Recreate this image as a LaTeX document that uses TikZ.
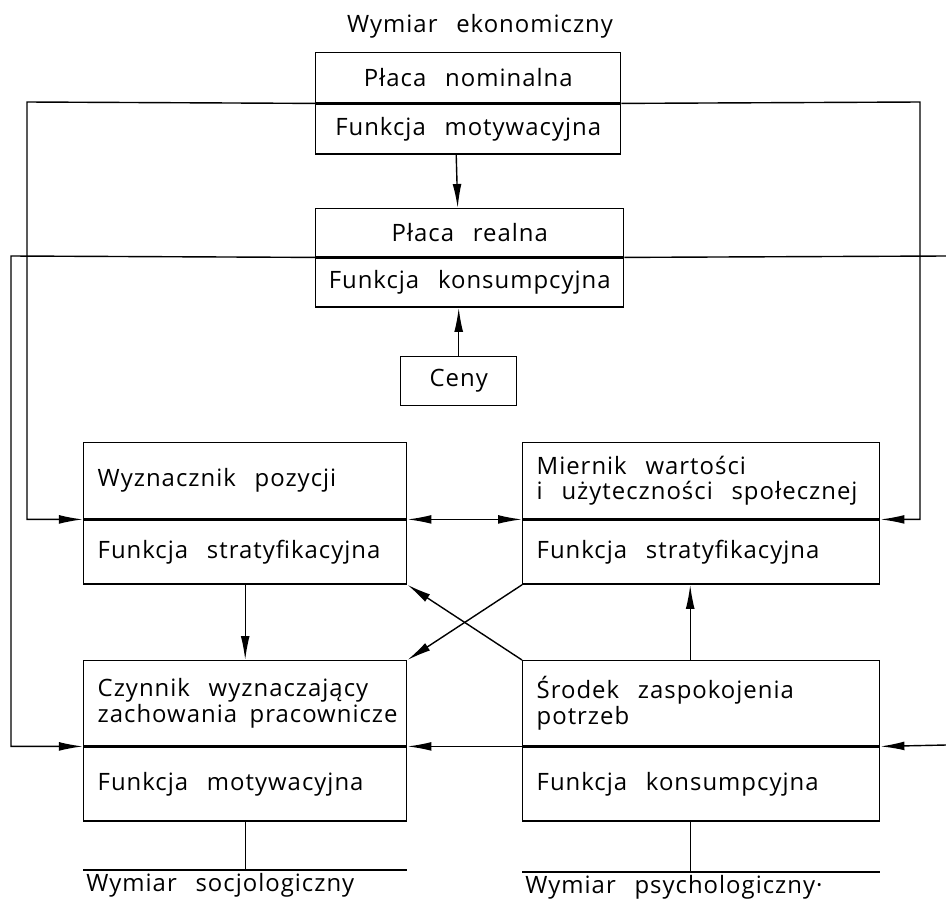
\documentclass[tikz,border=0pt]{standalone}
\usepackage{fontspec}
\setmainfont[LetterSpace=4.2,WordSpace=2.6]{Open Sans}
\usepackage{tikz}
\usetikzlibrary{arrows.meta, positioning}
\newdimen\pxu \pxu=0.025cm
\tikzset{
  cellbox/.style={draw=black,line width=1pt,inner sep=0pt,anchor=north west,font=\fontsize{17}{18}\selectfont},
  lcell/.style={cellbox,align=flush left,inner xsep=14\pxu,execute at begin node={\hyphenpenalty=10000 \exhyphenpenalty=10000 }},
  dimlabel/.style={anchor=north west,inner xsep=3\pxu,inner ysep=3\pxu,align=flush left,font=\fontsize{17}{18}\selectfont},
  flowedge/.style={-{Latex[length=6mm,width=2.2mm]},line width=1pt,black},
  biedge/.style={flowedge,{Latex[length=6mm,width=2.2mm]}-{Latex[length=6mm,width=2.2mm]}},
  plainedge/.style={line width=1pt,black},
  dimrule/.style={line width=1.8pt,black},
}
\begin{document}
\begin{tikzpicture}[x=0.025cm,y=-0.025cm]
  \useasboundingbox (0,0) rectangle (946,901);
  % economic level
  \node[font=\fontsize{17}{18}\selectfont] (nEkon) at (480,26) {Wymiar ekonomiczny};
  \node[cellbox,minimum width=305\pxu,minimum height=50\pxu] (nNominal) at (315,52) {Płaca nominalna};
  \node[cellbox,minimum width=305\pxu,minimum height=50\pxu] (nNominalF) at (nNominal.south west) {Funkcja motywacyjna};
  \node[cellbox,minimum width=308\pxu,minimum height=48\pxu] (nRealna) at (315,208) {Płaca realna};
  \node[cellbox,minimum width=308\pxu,minimum height=49\pxu] (nRealnaF) at (nRealna.south west) {Funkcja konsumpcyjna};
  \node[cellbox,minimum width=116\pxu,minimum height=49\pxu] (nCeny) at (400,356) {Ceny};
  % sociological / psychological level
  \node[lcell,text width=295\pxu,minimum height=76\pxu] (nPozycja) at (83,442) {Wyznacznik~pozycji};
  \node[lcell,text width=295\pxu,minimum height=64\pxu] (nPozycjaF) at (nPozycja.south west) {Funkcja~stratyfikacyjna};
  \node[lcell,text width=329\pxu,minimum height=76\pxu] (nMiernik) at (522,442) {Miernik~wartości\\i~użyteczności~społecznej};
  \node[lcell,text width=329\pxu,minimum height=64\pxu] (nMiernikF) at (nMiernik.south west) {Funkcja~stratyfikacyjna};
  \node[lcell,text width=295\pxu,minimum height=85\pxu] (nCzynnik) at (83,660) {Czynnik~wyznaczający\\zachowania~pracownicze};
  \node[lcell,text width=295\pxu,minimum height=74\pxu] (nCzynnikF) at (nCzynnik.south west) {Funkcja~motywacyjna};
  \node[lcell,text width=329\pxu,minimum height=85\pxu] (nSrodek) at (522,660) {Środek~zaspokojenia\\potrzeb};
  \node[lcell,text width=329\pxu,minimum height=74\pxu] (nSrodekF) at (nSrodek.south west) {Funkcja~konsumpcyjna};
  \node[dimlabel,text width=317\pxu] (nSocjo) at (83,870) {Wymiar~socjologiczny};
  \node[dimlabel,text width=351\pxu] (nPsycho) at (522,872) {Wymiar~psychologiczny·};
  % loop corners
  \coordinate (oL) at (27,102);
  \coordinate (oR) at (920,102);
  \coordinate (iL) at (11,256);
  \coordinate (iR) at (946,256);
  \coordinate (iRb) at (946,745);
  % edges
  \draw[flowedge] ([xshift=-12\pxu]nNominalF.south) -- ([xshift=-12\pxu]nRealna.north);
  \draw[flowedge] (nCeny.north) -- (nCeny.north |- nRealnaF.south);
  \draw[flowedge] (nNominal.south west) -- (oL) |- (nPozycja.south west);
  \draw[flowedge] (nNominal.south east) -- (oR) |- (nMiernik.south east);
  \draw[flowedge] (nRealna.south west) -- (iL) |- (nCzynnik.south west);
  \draw[plainedge] (nRealna.south east) -- (iR);
  \draw[flowedge] (iRb) -- (nSrodek.south east);
  \draw[biedge] (nPozycja.south east) -- (nMiernik.south west);
  \draw[flowedge] (nSrodek.south west) -- (nCzynnik.south east);
  \draw[flowedge] (nPozycjaF.south) -- (nCzynnik.north);
  \draw[flowedge] ([xshift=-11\pxu]nSrodek.north) -- ([xshift=-11\pxu]nMiernikF.south);
  \draw[flowedge] (nMiernikF.south west) -- (nCzynnik.north east);
  \draw[flowedge] (nSrodek.north west) -- (nPozycjaF.south east);
  \draw[plainedge] (nCzynnikF.south) -- (nCzynnikF.south |- nSocjo.north);
  \draw[plainedge] ([xshift=-11\pxu]nSrodekF.south) -- ([xshift=-11\pxu]nSrodekF.south |- nPsycho.north);
  \draw[dimrule] (nSocjo.north west) -- (nSocjo.north east);
  \draw[dimrule] (nPsycho.north west) -- (nPsycho.north east);
\end{tikzpicture}
\end{document}
